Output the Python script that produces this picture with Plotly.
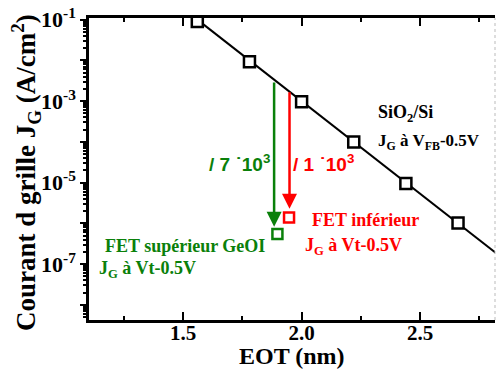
import math
import plotly.graph_objects as go

# SiO2/Si reference points
eot_sio2 = [1.56, 1.78, 2.00, 2.22, 2.44, 2.66]
jg_sio2 = [9.0e-2, 9.3e-3, 9.6e-4, 1.0e-4, 9.5e-6, 1.03e-6]
# fit line through SiO2/Si points
eot_fit = [1.56, 2.90]
jg_fit = [1.0e-1, 8.1e-8]
# GeOI FETs
eot_top = [1.898]
jg_top = [5.5e-7]
eot_bot = [1.947]
jg_bot = [1.4e-6]
# arrows (x, start J, end J)
arrow_green = (1.884, 3.1e-3, 8.3e-7)
arrow_red = (1.949, 1.8e-3, 2.3e-6)

ytick_vals = [1e-1, 1e-2, 1e-3, 1e-4, 1e-5, 1e-6, 1e-7, 1e-8]
ytick_text = ["10<sup>-1</sup>", "", "10<sup>-3</sup>", "", "10<sup>-5</sup>", "", "10<sup>-7</sup>", ""]
xtick_vals = [1.5, 2.0, 2.5]
xtick_text = ["1.5", "2.0", "2.5"]

GREEN = "#0a800a"
RED = "#ff0000"
SERIF = "Liberation Serif"
SANS = "Liberation Sans"

fig = go.Figure()
fig.add_trace(go.Scatter(x=eot_fit, y=jg_fit, mode="lines",
                         line=dict(color="black", width=2), showlegend=False))
fig.add_trace(go.Scatter(x=eot_sio2, y=jg_sio2, mode="markers",
                         marker=dict(symbol="square", size=11, color="white",
                                     line=dict(color="black", width=2.5)),
                         showlegend=False))
fig.add_trace(go.Scatter(x=eot_top, y=jg_top, mode="markers",
                         marker=dict(symbol="square", size=10, color="white",
                                     line=dict(color=GREEN, width=2.5)),
                         showlegend=False))
fig.add_trace(go.Scatter(x=eot_bot, y=jg_bot, mode="markers",
                         marker=dict(symbol="square", size=10, color="white",
                                     line=dict(color=RED, width=2.5)),
                         showlegend=False))

for (ax_x, y0, y1), col in [(arrow_green, GREEN), (arrow_red, RED)]:
    fig.add_annotation(x=ax_x, y=math.log10(y1), ax=ax_x, ay=math.log10(y0),
                       xref="x", yref="y", axref="x", ayref="y",
                       showarrow=True, arrowhead=2, arrowsize=1.2, arrowwidth=2.5,
                       arrowcolor=col, text="")

def txt(x, y, s, color, size=18, font=SERIF, xanchor="left"):
    fig.add_annotation(x=x, y=y, xref="x", yref="y", text=s, showarrow=False,
                       xanchor=xanchor, yanchor="middle",
                       font=dict(family=font, size=size, color=color, weight="bold"))

txt(1.876, -4.52, "/ 7 ˙10<sup>3</sup>", GREEN, size=19, font=SANS, xanchor="right")
txt(1.954, -4.52, "/ 1 ˙10<sup>3</sup>", RED, size=19, font=SANS)
txt(2.316, -3.30, "SiO<sub>2</sub>/Si", "black", size=18)
txt(2.316, -4.01, "J<sub>G</sub> à V<sub>FB</sub>-0.5V", "black", size=17)
txt(2.035, -5.92, "FET inférieur", RED, size=18)
txt(2.006, -6.57, "J<sub>G</sub> à Vt-0.5V", RED, size=18)
txt(1.161, -6.56, "FET supérieur GeOI", GREEN, size=18)
txt(1.136, -7.12, "J<sub>G</sub> à Vt-0.5V", GREEN, size=18)

# axis titles
fig.add_annotation(x=0.5, y=-0.119, xref="paper", yref="paper", text="EOT (nm)",
                   showarrow=False, xanchor="center", yanchor="middle",
                   font=dict(family=SERIF, size=24, color="black", weight="bold"))
fig.add_annotation(x=-0.155, y=0.487, xref="paper", yref="paper",
                   text="Courant d grille J<sub>G</sub> (A/cm<sup>2</sup>)",
                   showarrow=False, xanchor="center", yanchor="middle", textangle=-90,
                   font=dict(family=SERIF, size=27, color="black", weight="bold"))

fig.add_shape(type="line", xref="paper", yref="paper", x0=1, x1=1, y0=0, y1=1,
              line=dict(color="#bbbbbb", width=1, dash="dot"))

fig.update_layout(
    width=496, height=369,
    margin=dict(l=89, r=1, t=18, b=49, autoexpand=False),
    paper_bgcolor="white", plot_bgcolor="white",
    xaxis=dict(range=[1.103, 2.816], tickvals=xtick_vals, ticktext=xtick_text,
               ticks="inside", ticklen=8, tickwidth=2, tickcolor="black",
               showline=True, linewidth=2.5, linecolor="black", mirror="ticks",
               showgrid=False, zeroline=False, automargin=False,
               ticklabelstandoff=-8,
               minor=dict(tickmode="array", tickvals=[1.25, 1.75, 2.25, 2.75],
                          ticks="inside", ticklen=4, tickwidth=2, tickcolor="black"),
               tickfont=dict(family=SERIF, size=21, color="black", weight="bold")),
    yaxis=dict(type="log", range=[-8.37, -0.96], tickvals=ytick_vals, ticktext=ytick_text,
               ticks="outside", ticklen=6, tickwidth=2, tickcolor="black",
               showline=True, linewidth=2.5, linecolor="black",
               showgrid=False, zeroline=False, automargin=False,
               minor=dict(dtick="D1", ticks="outside", ticklen=3, tickwidth=1.5, tickcolor="black"),
               tickfont=dict(family=SERIF, size=22, color="black", weight="bold")),
)

fig.write_html("out.html", config={"displayModeBar": False},
               post_script="document.body.style.margin='0';document.body.style.overflow='hidden';")
